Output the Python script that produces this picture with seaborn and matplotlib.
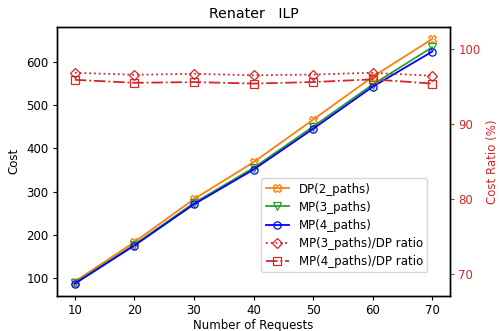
import matplotlib
matplotlib.use("Agg")
import matplotlib.pyplot as plt
import seaborn as sns
import numpy as np

requests = [10, 20, 30, 40, 50, 60, 70]
dp_cost = [93, 184, 283, 368, 466, 565, 652]
mp3_cost = [90, 178, 274, 355, 450, 547, 633]
mp4_cost = [88, 176, 271, 351, 445, 542, 623]
mp3_ratio = [96.84, 96.57, 96.7, 96.5, 96.6, 96.84, 96.44]
mp4_ratio = [95.9, 95.5, 95.6, 95.4, 95.6, 95.96, 95.4]

plt.rcParams.update({
    "font.size": 8.5,
    "lines.linewidth": 1.3,
    "axes.linewidth": 1.0,
    "xtick.major.size": 3.0,
    "ytick.major.size": 3.0,
    "xtick.major.pad": 3.0,
    "ytick.major.pad": 3.0,
})

fig = plt.figure(figsize=(5, 3.31), dpi=100)
ax = fig.add_axes([0.114, 0.106, 0.786, 0.813])
ax2 = ax.twinx()

red = "#d62728"
common = dict(markerfacecolor="none", markersize=5.2, markeredgewidth=0.9)
sns.lineplot(x=requests, y=dp_cost, ax=ax, color="#ff7f0e", marker="X",
             markeredgecolor="#ff7f0e", label="DP(2_paths)", legend=False, **common)
sns.lineplot(x=requests, y=mp3_cost, ax=ax, color="#2ca02c", marker="v",
             markeredgecolor="#2ca02c", label="MP(3_paths)", legend=False, **common)
sns.lineplot(x=requests, y=mp4_cost, ax=ax, color="blue", marker="o",
             markeredgecolor="blue", label="MP(4_paths)", legend=False, **common)
sns.lineplot(x=requests, y=mp3_ratio, ax=ax2, color=red, marker="D", linestyle=":",
             markeredgecolor=red, label="MP(3_paths)/DP ratio", legend=False, **common)
sns.lineplot(x=requests, y=mp4_ratio, ax=ax2, color=red, marker="s", linestyle="-.",
             markeredgecolor=red, label="MP(4_paths)/DP ratio", legend=False, **common)

ax.set_xticks(requests)
ax.set_xlabel("Number of Requests", labelpad=1.0)
ax.set_ylabel("Cost")
ax.set_yticks([100, 200, 300, 400, 500, 600])
ax.set_title("Renater   ILP")

ax2.set_ylim(67.07, 102.97)
ax2.set_yticks([70, 80, 90, 100])
ax2.set_ylabel("Cost Ratio (%)", color=red)
ax2.tick_params(axis="y", colors=red)
ax2.spines["right"].set_color("black")

h1, l1 = ax.get_legend_handles_labels()
h2, l2 = ax2.get_legend_handles_labels()
ax2.legend(h1 + h2, l1 + l2, loc="lower right", bbox_to_anchor=(0.9415, 0.089),
           borderaxespad=0, fontsize=8.5, labelspacing=0.43, borderpad=0.35)

fig.savefig("out.png", dpi=100)
